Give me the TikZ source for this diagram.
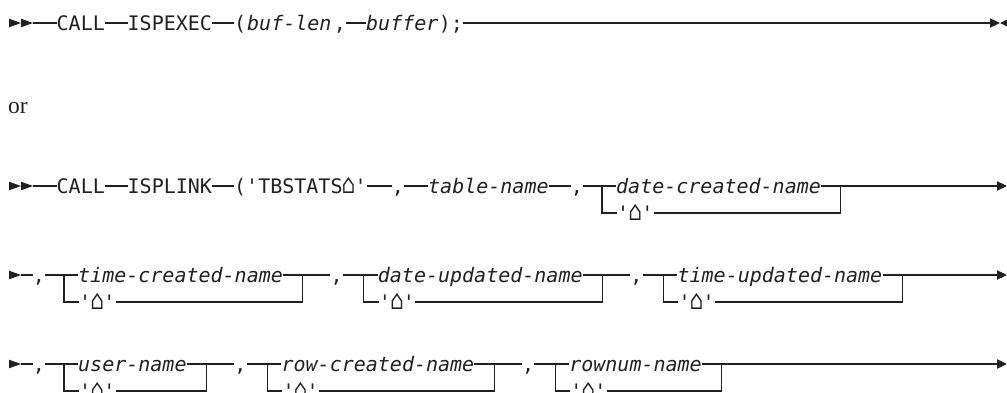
\documentclass[tikz,border=0pt]{standalone}
\usepackage{fontspec}
\usepackage{graphicx}
\newfontfamily\synfont{DejaVu Sans Mono}[Ligatures=TeXOff]
\newfontfamily\orfont{Liberation Serif}
\definecolor{ink}{RGB}{35,31,32}
\newcommand\hsym{\makebox[0.6021em][c]{\scalebox{1.15}[1.35]{⌂}}}
\begin{document}
\begin{tikzpicture}[x=1pt,y=-1pt,
  ln/.style={draw=ink,line width=1.2pt},
  txt/.style={inner sep=0pt,anchor=west,text=ink,text height=15pt,text depth=0pt,font=\fontsize{20}{24}\synfont},
  var/.style={txt,font=\fontsize{20}{24}\synfont\itshape},
  commanode/.style={txt,anchor=center},
  tri/.style={fill=ink}]
\useasboundingbox (0,0) rectangle (1007,393);

% ---------- row 1
\fill[tri] (9,18.7) -- (21,23) -- (9,27.3) -- cycle;
\fill[tri] (21,18.7) -- (33,23) -- (21,27.3) -- cycle;
\coordinate (a0) at (33,23);
\node[txt] (a1) at (56.5,23) {CALL};
\node[txt] (a2) at (127.5,23) {ISPEXEC};
\node[txt] (a3) at (234,23) {(};
\node[var] (a4) at (247,23) {buf-len};
\node[commanode]  (a5) at (340,23) {,};
\node[var] (a6) at (366,23) {buffer};
\node[txt] (a7) at (a6.east) {);};
\coordinate (a8) at (990,23);
\draw[ln] (a0) -- (a1);
\draw[ln] (a1) -- (a2);
\draw[ln] (a2) -- (a3);
\draw[ln] (a5) -- (a6);
\draw[ln] (a7) -- (a8);
\fill[tri] (990,18.2) -- (1000,23) -- (990,27.8) -- cycle;
\fill[tri] (1010,18.2) -- (1000,23) -- (1010,27.8) -- cycle;

% ---------- or
\node[anchor=base west,inner sep=0pt,text=ink,font=\fontsize{23.5}{28}\orfont] (or) at (8,114) {or};

% ---------- row 3
\fill[tri] (9,181.7) -- (21,186) -- (9,190.3) -- cycle;
\fill[tri] (21,181.7) -- (33,186) -- (21,190.3) -- cycle;
\coordinate (b0) at (33,186);
\node[txt] (b1) at (56.5,186) {CALL};
\node[txt] (b2) at (127.5,186) {ISPLINK};
\node[txt] (b3) at (234,186) {('TBSTATS\hsym'};
\node[commanode]  (b4) at (398,186) {,};
\node[var] (b5) at (428,186) {table-name};
\node[commanode]  (b6) at (577,186) {,};
\coordinate (b7L) at (602,186);
\node[var] (b7) at (616,186) {date-created-name};
\coordinate (b7R) at (840.7,186);
\node[txt] (b7q) at (617,213) {'\hsym'};
\coordinate (b8) at (997,186);
\draw[ln] (b0) -- (b1);
\draw[ln] (b1) -- (b2);
\draw[ln] (b2) -- (b3);
\draw[ln] (b3) -- (b4);
\draw[ln] (b4) -- (b5);
\draw[ln] (b5) -- (b6);
\draw[ln] (b6) -- (b7);
\draw[ln] (b7) -- (b7R) -- (b8);
\draw[ln] (b7L) |- (b7q);
\draw[ln] (b7q) -| (b7R);
\fill[tri] (997,181.2) -- (1007,186) -- (997,190.8) -- cycle;

% ---------- row 4
\fill[tri] (9,270.7) -- (21,275) -- (9,279.3) -- cycle;
\coordinate (c0) at (21,275);
\node[commanode] (c1) at (39,275) {,};
\coordinate (c2L) at (64,275);
\node[var] (c2) at (78,275) {time-created-name};
\coordinate (c2R) at (302.7,275);
\node[txt] (c2q) at (79,302) {'\hsym'};
\node[commanode] (c3) at (336.7,275) {,};
\coordinate (c4L) at (363.7,275);
\node[var] (c4) at (377.7,275) {date-updated-name};
\coordinate (c4R) at (602.4,275);
\node[txt] (c4q) at (378.7,302) {'\hsym'};
\node[commanode] (c5) at (636.4,275) {,};
\coordinate (c6L) at (663.4,275);
\node[var] (c6) at (677.4,275) {time-updated-name};
\coordinate (c6R) at (902.1,275);
\node[txt] (c6q) at (678.4,302) {'\hsym'};
\coordinate (c7) at (997,275);
\draw[ln] (c0) -- (c1);
\draw[ln] (c1) -- (c2);
\draw[ln] (c2) -- (c2R) -- (c3);
\draw[ln] (c3) -- (c4);
\draw[ln] (c4) -- (c4R) -- (c5);
\draw[ln] (c5) -- (c6);
\draw[ln] (c6) -- (c6R) -- (c7);
\draw[ln] (c2L) |- (c2q);
\draw[ln] (c2q) -| (c2R);
\draw[ln] (c4L) |- (c4q);
\draw[ln] (c4q) -| (c4R);
\draw[ln] (c6L) |- (c6q);
\draw[ln] (c6q) -| (c6R);
\fill[tri] (997,270.2) -- (1007,275) -- (997,279.8) -- cycle;

% ---------- row 5
\fill[tri] (9,359.7) -- (21,364) -- (9,368.3) -- cycle;
\coordinate (d0) at (21,364);
\node[commanode] (d1) at (39,364) {,};
\coordinate (d2L) at (64,364);
\node[var] (d2) at (78,364) {user-name};
\coordinate (d2R) at (206.4,364);
\node[txt] (d2q) at (79,391) {'\hsym'};
\node[commanode] (d3) at (240.4,364) {,};
\coordinate (d4L) at (267.4,364);
\node[var] (d4) at (281.4,364) {row-created-name};
\coordinate (d4R) at (494.1,364);
\node[txt] (d4q) at (282.4,391) {'\hsym'};
\node[commanode] (d5) at (528.1,364) {,};
\coordinate (d6L) at (555.1,364);
\node[var] (d6) at (569.1,364) {rownum-name};
\coordinate (d6R) at (721.6,364);
\node[txt] (d6q) at (570.1,391) {'\hsym'};
\coordinate (d7) at (997,364);
\draw[ln] (d0) -- (d1);
\draw[ln] (d1) -- (d2);
\draw[ln] (d2) -- (d2R) -- (d3);
\draw[ln] (d3) -- (d4);
\draw[ln] (d4) -- (d4R) -- (d5);
\draw[ln] (d5) -- (d6);
\draw[ln] (d6) -- (d6R) -- (d7);
\draw[ln] (d2L) |- (d2q);
\draw[ln] (d2q) -| (d2R);
\draw[ln] (d4L) |- (d4q);
\draw[ln] (d4q) -| (d4R);
\draw[ln] (d6L) |- (d6q);
\draw[ln] (d6q) -| (d6R);
\fill[tri] (997,359.2) -- (1007,364) -- (997,368.8) -- cycle;
\end{tikzpicture}
\end{document}
